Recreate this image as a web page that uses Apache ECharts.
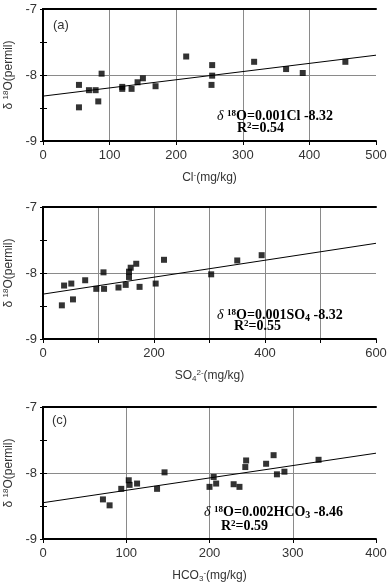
<!DOCTYPE html>
<html>
<head>
<meta charset="utf-8">
<script src="https://cdn.jsdelivr.net/npm/echarts@6/dist/echarts.min.js"></script>
<style>
  html, body { margin: 0; padding: 0; background: #fff; }
  #chart { width: 388px; height: 583px; }
</style>
</head>
<body>
<div id="chart"></div>
<script>
// (a) Cl- vs d18O
const clX = [54, 54, 69, 79, 83, 88, 119, 119, 133, 142, 150, 169, 215, 254, 254, 253, 317, 365, 390, 454]
const clY = [-8.15, -8.49, -8.23, -8.23, -8.40, -7.98, -8.18, -8.21, -8.21, -8.11, -8.05, -8.17, -7.72, -7.85, -8.01, -8.15, -7.80, -7.91, -7.97, -7.80]
const clFit = [[0, -8.32], [500, -7.70]]

// (b) SO4 2- vs d18O
const so4X = [34, 38, 51, 54, 76, 96, 109, 110, 136, 149, 155, 155, 158, 168, 174, 203, 218, 303, 350, 394]
const so4Y = [-8.49, -8.19, -8.16, -8.40, -8.11, -8.24, -7.99, -8.24, -8.22, -8.18, -8.06, -7.98, -7.92, -7.86, -8.21, -8.16, -7.80, -8.02, -7.81, -7.73]
const so4Fit = [[0, -8.32], [600, -7.55]]

// (c) HCO3- vs d18O
const hco3X = [72, 80, 94, 103, 104, 113, 137, 146, 200, 205, 208, 229, 236, 243, 244, 268, 277, 281, 290, 331]
const hco3Y = [-8.40, -8.49, -8.24, -8.11, -8.18, -8.16, -8.24, -7.99, -8.21, -8.06, -8.16, -8.17, -8.21, -7.91, -7.81, -7.86, -7.73, -8.02, -7.98, -7.80]
const hco3Fit = [[0, -8.45], [400, -7.70]]

const xMax = [500, 600, 400]
const xLabelStep = [100, 200, 100]
const yTicks = [-9, -7]

const chart = echarts.init(document.getElementById('chart'))

const gridTops = [9, 207, 407]
const sans = 'Liberation Sans'
const serif = 'Liberation Serif'
const frame = { show: true, lineStyle: { color: '#000', width: 2 } }

const grids = gridTops.map(top => ({
  left: 43, right: 12, top: top, height: 132,
  containLabel: false, outerBoundsMode: 'none'
}))

const xNames = [
  '{n|Cl}{sup|-}{n|(mg/kg)}',
  '{n|SO}{sub|4}{sup|2-}{n|(mg/kg)}',
  '{n|HCO}{sub|3}{sup|-}{n|(mg/kg)}'
]
const nameRich = {
  n: { fontFamily: sans, fontSize: 12, color: '#333', lineHeight: 14 },
  sup: { fontFamily: sans, fontSize: 8, color: '#333', verticalAlign: 'top', lineHeight: 14 },
  sub: { fontFamily: sans, fontSize: 8, color: '#333', verticalAlign: 'bottom', lineHeight: 12 }
}

const bottomX = xMax.map((max, i) => ({
  type: 'value', gridIndex: i, position: 'bottom', min: 0, max: max, interval: 100,
  axisLine: frame,
  axisTick: { show: true, length: 4, lineStyle: { color: '#000' } },
  axisLabel: {
    margin: 8, fontFamily: sans, fontSize: 13, color: '#333',
    formatter: v => (v % xLabelStep[i] === 0 ? String(v) : '')
  },
  splitLine: { show: true, showMinLine: false, showMaxLine: false, lineStyle: { color: '#8a8a8a', width: 1 } },
  name: xNames[i], nameLocation: 'middle', nameGap: 30,
  nameTextStyle: { rich: nameRich }
}))
const topX = xMax.map((max, i) => ({
  type: 'value', gridIndex: i, position: 'top', min: 0, max: max, interval: 100,
  axisLine: frame, axisTick: { show: false }, axisLabel: { show: false }, splitLine: { show: false }
}))

const clear = 'rgba(0,0,0,0)'
const leftY = gridTops.map((t, i) => ({
  type: 'value', gridIndex: i, position: 'left', min: yTicks[0], max: yTicks[1], interval: 0.5,
  axisLine: frame,
  axisTick: { show: true, length: 3, lineStyle: { color: '#000' } },
  axisLabel: {
    margin: 6, fontFamily: sans, fontSize: 13, color: '#333',
    formatter: v => (v % 1 === 0 ? String(v) : '')
  },
  splitLine: { show: true, lineStyle: { color: [clear, clear, '#8a8a8a', clear, clear], width: 1 } },
  name: '{n|δ }{sup|18}{n|O(permil)}', nameLocation: 'middle', nameGap: 26, nameRotate: 90,
  nameTextStyle: { rich: nameRich }
}))
const rightY = gridTops.map((t, i) => ({
  type: 'value', gridIndex: i, position: 'right', min: yTicks[0], max: yTicks[1], interval: 0.5,
  axisLine: frame,
  axisTick: { show: true, length: 4, lineStyle: { color: '#000' } },
  axisLabel: { show: false },
  splitLine: { show: false }
}))

const pts = (xs, ys) => xs.map((x, k) => [x, ys[k]])
const sets = [
  { x: clX, y: clY, fit: clFit },
  { x: so4X, y: so4Y, fit: so4Fit },
  { x: hco3X, y: hco3Y, fit: hco3Fit }
]
const series = []
sets.forEach((s, i) => {
  series.push({
    type: 'line', xAxisIndex: i, yAxisIndex: i, data: s.fit, symbol: 'none',
    lineStyle: { color: '#000', width: 1 }, silent: true, z: 2
  })
  series.push({
    type: 'scatter', xAxisIndex: i, yAxisIndex: i, data: pts(s.x, s.y),
    symbol: 'rect', symbolSize: 6, itemStyle: { color: '#000' }, z: 3
  })
})

const eqRich = {
  d: { fontFamily: serif, fontStyle: 'italic', fontSize: 14, color: '#111', lineHeight: 15 },
  s: { fontFamily: serif, fontWeight: 'bold', fontSize: 9, color: '#111', verticalAlign: 'top', lineHeight: 15 },
  b: { fontFamily: serif, fontWeight: 'bold', fontSize: 14, color: '#111', lineHeight: 15 },
  u: { fontFamily: serif, fontWeight: 'bold', fontSize: 10, color: '#111', verticalAlign: 'bottom', lineHeight: 13 }
}
const eqText = (left, top, text) => ({ type: 'text', left: left, top: top, z: 10, style: { text: text, rich: eqRich } })

const graphic = [
  { type: 'text', left: 53, top: 19, style: { text: '(a)', fontFamily: sans, fontSize: 13, fill: '#333' } },
  { type: 'text', left: 52, top: 414, style: { text: '(c)', fontFamily: sans, fontSize: 13, fill: '#333' } },
  eqText(217, 109, '{d|δ }{s|18}{b|O=0.001Cl -8.32}'),
  eqText(237, 121, '{b|R}{s|2}{b|=0.54}'),
  eqText(217, 308, '{d|δ }{s|18}{b|O=0.001SO}{u|4}{b| -8.32}'),
  eqText(234, 319, '{b|R}{s|2}{b|=0.55}'),
  eqText(204, 505, '{d|δ }{s|18}{b|O=0.002HCO}{u|3}{b| -8.46}'),
  eqText(221, 519, '{b|R}{s|2}{b|=0.59}')
]

chart.setOption({
  animation: false,
  backgroundColor: '#fff',
  grid: grids,
  xAxis: bottomX.concat(topX),
  yAxis: leftY.concat(rightY),
  series: series,
  graphic: graphic
})
</script>
</body>
</html>
